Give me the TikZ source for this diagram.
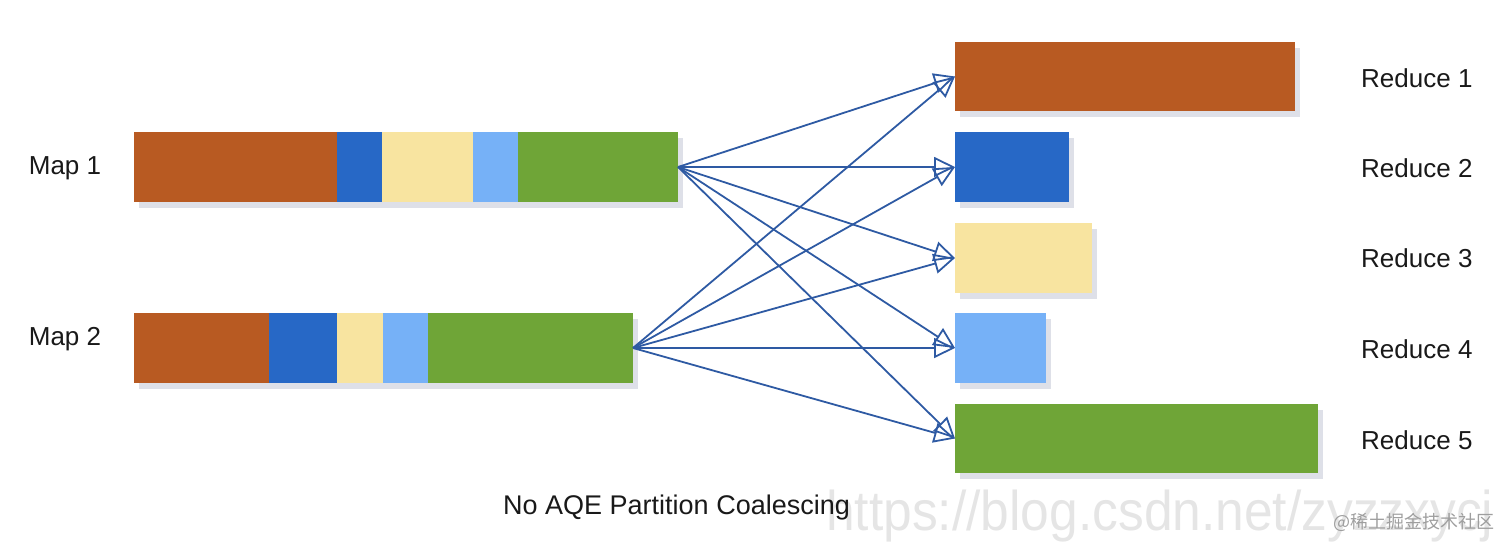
\documentclass[tikz,border=0pt]{standalone}
\usepackage{fontspec}
\setmainfont{Liberation Sans}
\newfontfamily\cjk{Noto Sans CJK SC}
\usetikzlibrary{arrows.meta,shadows}
\definecolor{cOr}{RGB}{184,90,34}
\definecolor{cBl}{RGB}{39,104,198}
\definecolor{cCr}{RGB}{248,228,160}
\definecolor{cLb}{RGB}{118,177,247}
\definecolor{cGr}{RGB}{111,165,55}
\definecolor{cArr}{RGB}{46,90,163}
\definecolor{cShadow}{RGB}{90,100,140}
\begin{document}
\begin{tikzpicture}[x=1pt,y=-1pt,
  bar/.style={rectangle,inner sep=0pt,outer sep=0pt,anchor=north west,minimum height=70,
    drop shadow={shadow xshift=5pt,shadow yshift=-6pt,opacity=0.2,fill=cShadow}},
  seg/.style={rectangle,inner sep=0pt,outer sep=0pt,anchor=north west,minimum height=70},
  lbl/.style={font=\fontsize{26}{30}\selectfont,inner sep=0pt,text=black!90},
  arr/.style={draw=cArr,line width=1.8pt,-{Triangle[open,length=21pt,width=20pt,line width=1.8pt]}}
]
\useasboundingbox (0,0) rectangle (1512,549);

% Map 1
\node[bar,minimum width=544] (m1) at (134,132) {};
\node[seg,fill=cOr,minimum width=203] (m1a) at (134,132) {};
\node[seg,fill=cBl,minimum width=45] (m1b) at (337,132) {};
\node[seg,fill=cCr,minimum width=91] (m1c) at (382,132) {};
\node[seg,fill=cLb,minimum width=45] (m1d) at (473,132) {};
\node[seg,fill=cGr,minimum width=160] (m1e) at (518,132) {};

% Map 2
\node[bar,minimum width=499] (m2) at (134,313) {};
\node[seg,fill=cOr,minimum width=135] (m2a) at (134,313) {};
\node[seg,fill=cBl,minimum width=68] (m2b) at (269,313) {};
\node[seg,fill=cCr,minimum width=46] (m2c) at (337,313) {};
\node[seg,fill=cLb,minimum width=45] (m2d) at (383,313) {};
\node[seg,fill=cGr,minimum width=205] (m2e) at (428,313) {};

% Reduce bars
\node[bar,fill=cOr,minimum width=340,minimum height=69] (r1) at (955,42) {};
\node[bar,fill=cBl,minimum width=114] (r2) at (955,132) {};
\node[bar,fill=cCr,minimum width=137] (r3) at (955,223) {};
\node[bar,fill=cLb,minimum width=91] (r4) at (955,313) {};
\node[bar,fill=cGr,minimum width=363,minimum height=69] (r5) at (955,404) {};

% Labels
\node[lbl] (l1) at (65,168) {Map 1};
\node[lbl] (l2) at (65,339) {Map 2};
\node[lbl,anchor=west] (lr1) at (1361,78) {Reduce 1};
\node[lbl,anchor=west] (lr2) at (1361,168) {Reduce 2};
\node[lbl,anchor=west] (lr3) at (1361,258) {Reduce 3};
\node[lbl,anchor=west] (lr4) at (1361,349) {Reduce 4};
\node[lbl,anchor=west] (lr5) at (1361,440) {Reduce 5};

% Arrows
\foreach \r in {r1,r2,r3,r4,r5} {
  \draw[arr] (m1.east) -- (\r.west);
  \draw[arr] (m2.east) -- (\r.west);
}

% Watermarks
\node[anchor=base west,inner sep=0pt,text=black!10,font=\fontsize{56}{60}\selectfont,xscale=0.92] (wm) at (826,530) {https://blog.csdn.net/zyzzxycj};
\node[anchor=west,inner sep=0pt,text=black!38,font=\cjk\fontsize{18}{20}\selectfont] (wm2) at (1333,522) {@稀土掘金技术社区};

% Caption
\node[lbl,anchor=west,font=\fontsize{27}{30}\selectfont] (cap) at (503,508) {No AQE Partition Coalescing};
\end{tikzpicture}
\end{document}
